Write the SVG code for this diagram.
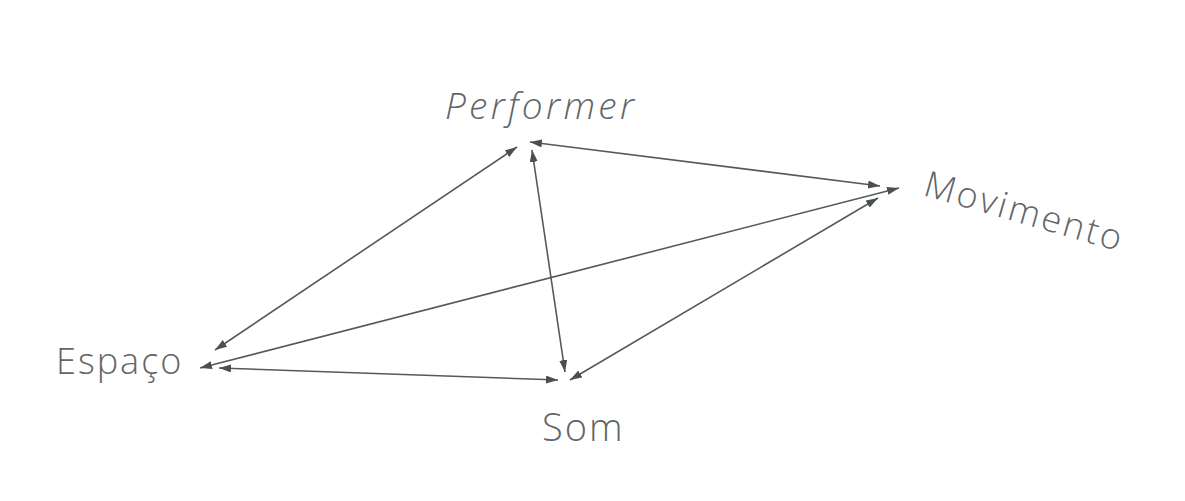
<svg xmlns="http://www.w3.org/2000/svg" width="1185" height="501" viewBox="0 0 1185 501">
<defs>
<marker id="ah" viewBox="0 0 12 8" refX="12" refY="4" markerWidth="12" markerHeight="8" markerUnits="userSpaceOnUse" orient="auto-start-reverse">
<path d="M0,0 L12,4 L0,8 Z" fill="#4a4f52"/>
</marker>
<style>
.lbl{font-family:"Open Sans","Liberation Sans",sans-serif;font-size:36px;fill:#626668;font-weight:300;letter-spacing:2px}
.con line{stroke:#55595c;stroke-width:1.6;marker-start:url(#ah);marker-end:url(#ah)}
</style>
</defs>
<rect width="1185" height="501" fill="#ffffff"/>
<g id="connectors" class="con">
<line x1="215" y1="350" x2="517" y2="147"/>
<line x1="530" y1="142" x2="880" y2="186"/>
<line x1="532" y1="150" x2="565" y2="372"/>
<line x1="200" y1="368" x2="899" y2="188"/>
<line x1="219" y1="368" x2="558" y2="380"/>
<line x1="570" y1="380" x2="878" y2="198"/>
</g>
<g id="performer"><text class="lbl" x="445" y="119" font-style="italic" style="font-size:37px;letter-spacing:3.3px">Performer</text></g>
<g id="movimento"><text class="lbl" transform="translate(922,195) rotate(16)" style="letter-spacing:2.6px">Movimento</text></g>
<g id="espaco"><text class="lbl" x="56" y="374">Espaço</text></g>
<g id="som"><text class="lbl" x="542" y="441" style="font-size:38px">Som</text></g>
</svg>
